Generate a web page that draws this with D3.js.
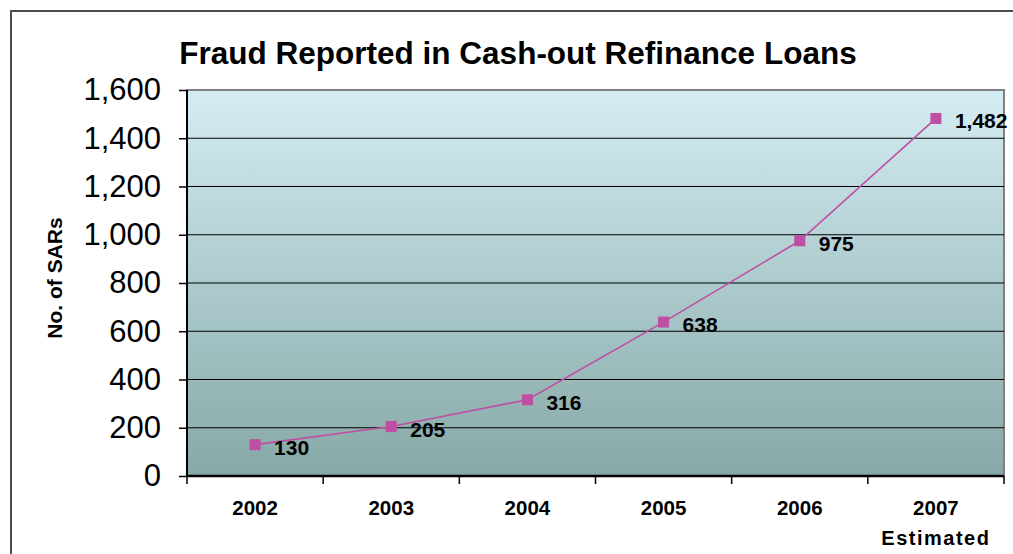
<!DOCTYPE html>
<html>
<head>
<meta charset="utf-8">
<script src="https://cdn.jsdelivr.net/npm/d3@7"></script>
<style>
  body { margin: 0; background: #fff; }
  text { font-family: "Liberation Sans", Arial, sans-serif; }
</style>
</head>
<body>
<svg id="chart" width="1013" height="554"></svg>
<script>
var years = ['2002', '2003', '2004', '2005', '2006', '2007'];
var sars = [130, 205, 316, 638, 975, 1482];
var valueLabels = ['130', '205', '316', '638', '975', '1,482'];
var yTicks = [0, 200, 400, 600, 800, 1000, 1200, 1400, 1600];

var margin = {
  top: 90,
  right: 9,
  bottom: 78,
  left: 187
};
var width = 1013 - margin.left - margin.right;
var height = 554 - margin.top - margin.bottom;

var root = d3.select('#chart');

// outer frame (runs off the right and bottom edges)
root.append('rect')
  .attr('x', 11)
  .attr('y', 11)
  .attr('width', 1040)
  .attr('height', 600)
  .attr('fill', 'none')
  .attr('stroke', '#4d4d4d')
  .attr('stroke-width', 2);

root.append('text')
  .attr('x', 518)
  .attr('y', 64)
  .attr('text-anchor', 'middle')
  .attr('font-size', '31.5px')
  .attr('font-weight', 'bold')
  .text('Fraud Reported in Cash-out Refinance Loans');

var defs = root.append('defs');
var grad = defs.append('linearGradient')
  .attr('id', 'bg')
  .attr('x1', 0).attr('y1', 0)
  .attr('x2', 0).attr('y2', 1);
grad.append('stop').attr('offset', '0%').attr('stop-color', '#d4edf4');
grad.append('stop').attr('offset', '100%').attr('stop-color', '#86a8a6');

var svg = root.append('g')
  .attr('transform', 'translate(' + margin.left + ', ' + margin.top + ')');

var xScale = d3.scaleBand()
  .domain(years)
  .range([0, width]);
var yScale = d3.scaleLinear()
  .domain([0, 1600])
  .range([height, 0]);

svg.append('rect')
  .attr('width', width)
  .attr('height', height)
  .attr('fill', 'url(#bg)')
  .attr('stroke', '#808080')
  .attr('stroke-width', 2);

// gridlines
svg.selectAll('.grid')
  .data(yTicks.slice(1, -1))
  .enter()
  .append('line')
  .attr('x1', 0)
  .attr('x2', width)
  .attr('y1', function (d) { return yScale(d); })
  .attr('y2', function (d) { return yScale(d); })
  .attr('stroke', '#000')
  .attr('stroke-width', 1.2);

var yAxis = d3.axisLeft()
  .scale(yScale)
  .tickValues(yTicks)
  .tickFormat(d3.format(','))
  .tickSize(8)
  .tickPadding(18);

var gy = svg.append('g')
  .attr('class', 'axis')
  .call(yAxis);
gy.select('.domain').attr('stroke-width', 2).attr('d', 'M0,0V' + height);
gy.selectAll('.tick line').attr('stroke-width', 1.5);
gy.selectAll('text')
  .attr('font-size', '31px')
  .attr('font-family', '"Liberation Sans", Arial, sans-serif')
  .attr('fill', '#000');

// bottom axis with ticks at category boundaries
var gx = svg.append('g')
  .attr('transform', 'translate(0, ' + height + ')');
gx.append('line')
  .attr('x1', 0)
  .attr('x2', width)
  .attr('stroke', '#000')
  .attr('stroke-width', 2.5);
gx.selectAll('.xt')
  .data(years.concat(['end']))
  .enter()
  .append('line')
  .attr('x1', function (d, i) { return i * xScale.bandwidth(); })
  .attr('x2', function (d, i) { return i * xScale.bandwidth(); })
  .attr('y1', 0)
  .attr('y2', 8)
  .attr('stroke', '#000')
  .attr('stroke-width', 1.5);
gx.selectAll('.xl')
  .data(years)
  .enter()
  .append('text')
  .attr('x', function (d) { return xScale(d) + xScale.bandwidth() / 2; })
  .attr('y', 39)
  .attr('text-anchor', 'middle')
  .attr('font-size', '20.5px')
  .attr('font-weight', 'bold')
  .text(function (d) { return d; });
gx.append('text')
  .attr('x', xScale('2007') + xScale.bandwidth() / 2)
  .attr('y', 69)
  .attr('text-anchor', 'middle')
  .attr('font-size', '20px')
  .attr('font-weight', 'bold')
  .attr('letter-spacing', '1.5px')
  .text('Estimated');

root.append('text')
  .attr('transform', 'translate(62, 278) rotate(-90)')
  .attr('text-anchor', 'middle')
  .attr('font-size', '21px')
  .attr('font-weight', 'bold')
  .text('No. of SARs');

var line = d3.line()
  .x(function (d, i) { return xScale(years[i]) + xScale.bandwidth() / 2; })
  .y(function (d) { return yScale(d); });

svg.append('path')
  .datum(sars)
  .attr('d', line)
  .attr('fill', 'none')
  .attr('stroke', '#bf4fa3')
  .attr('stroke-width', 1.6);

svg.selectAll('.pt')
  .data(sars)
  .enter()
  .append('rect')
  .attr('x', function (d, i) { return xScale(years[i]) + xScale.bandwidth() / 2 - 5.5; })
  .attr('y', function (d) { return yScale(d) - 5.5; })
  .attr('width', 11)
  .attr('height', 11)
  .attr('fill', '#bf4fa3');

svg.selectAll('.lbl')
  .data(sars)
  .enter()
  .append('text')
  .attr('x', function (d, i) { return xScale(years[i]) + xScale.bandwidth() / 2 + 19; })
  .attr('y', function (d) { return yScale(d) + 10; })
  .attr('font-size', '21px')
  .attr('font-weight', 'bold')
  .text(function (d, i) { return valueLabels[i]; });
</script>
</body>
</html>
